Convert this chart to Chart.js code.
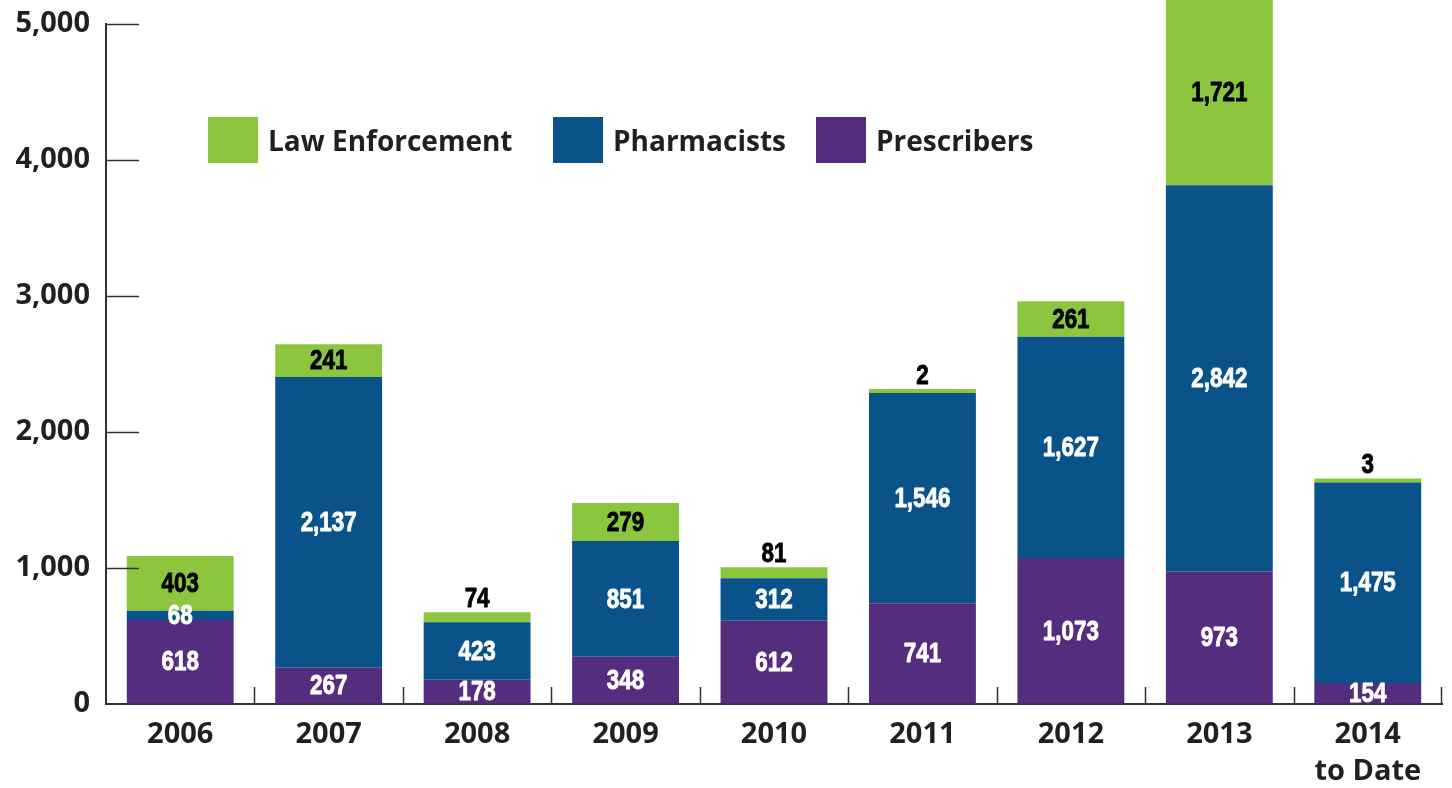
<!DOCTYPE html>
<html>
<head>
<meta charset="utf-8">
<script src="https://cdn.jsdelivr.net/npm/chart.js@4.4.1/dist/chart.umd.min.js"></script>
<style>
  html, body { margin: 0; padding: 0; background: #ffffff; }
  #wrap { position: relative; width: 1452px; height: 788px; overflow: hidden; }
  #chart { position: absolute; left: 0; top: 0; }
  .leg { position: absolute; top: 117px; height: 46px; display: flex; align-items: center;
         font-family: 'Open Sans', 'DejaVu Sans', sans-serif; font-weight: 700; font-size: 28px; color: #231f20; white-space: nowrap; }
  .leg .box { width: 50px; height: 46px; margin-right: 10px; }
</style>
</head>
<body>
<div id="wrap">
  <canvas id="chart" width="1452" height="788"></canvas>
</div>
<script>
// ---- data ----
const categories = ['2006', '2007', '2008', '2009', '2010', '2011', '2012', '2013', ['2014', 'to Date']];
const prescribers = [618, 267, 178, 348, 612, 741, 1073, 973, 154];
const pharmacists = [68, 2137, 423, 851, 312, 1546, 1627, 2842, 1475];
const lawEnforcement = [403, 241, 74, 279, 81, 2, 261, 1721, 3];
const yTicks = [0, 1000, 2000, 3000, 4000, 5000];

const seriesNames = ['Prescribers', 'Pharmacists', 'Law Enforcement'];
const seriesColors = ['#552d7e', '#0a538a', '#8cc63f'];
const labelColors = ['#ffffff', '#ffffff', '#000000'];
const legendOrder = [2, 1, 0];
const legendX = [208, 553, 816];

const LABEL_FONT = "bold 28px 'Liberation Sans', Arial, sans-serif";
const LABEL_SQUEEZE = 0.8;
const AXIS_COLOR = '#333333';

// tick marks inside the plot area
const tickMarks = {
  id: 'tickMarks',
  afterDatasetsDraw(chart) {
    const ctx = chart.ctx, area = chart.chartArea;
    const x = chart.scales.x, y = chart.scales.y;
    ctx.save();
    ctx.strokeStyle = AXIS_COLOR;
    ctx.lineWidth = 1.5;
    ctx.beginPath();
    y.ticks.forEach(t => {
      if (t.value === 0) return;
      const py = Math.round(y.getPixelForValue(t.value)) + 0.5;
      ctx.moveTo(area.left, py);
      ctx.lineTo(area.left + 33, py);
    });
    const n = categories.length;
    for (let i = 1; i <= n; i++) {
      let px = i < n ? (x.getPixelForTick(i - 1) + x.getPixelForTick(i)) / 2 : area.right - 1;
      px = Math.round(px) + 0.5;
      ctx.moveTo(px, area.bottom);
      ctx.lineTo(px, area.bottom - 17);
    }
    ctx.stroke();
    ctx.restore();
  }
};

// value labels on segments
const valueLabels = {
  id: 'valueLabels',
  afterDatasetsDraw(chart) {
    const ctx = chart.ctx;
    chart.data.datasets.forEach((ds, di) => {
      const meta = chart.getDatasetMeta(di);
      meta.data.forEach((bar, i) => {
        const v = ds.data[i];
        const top = Math.max(bar.y, 0);
        const h = bar.base - top;
        let cy = (top + bar.base) / 2;
        let color = labelColors[di];
        if (di === 2 && h < 20) {
          cy = bar.y - 14;
          color = '#000000';
        }
        const s = v.toLocaleString('en-US');
        ctx.save();
        ctx.font = LABEL_FONT;
        ctx.textAlign = 'center';
        ctx.textBaseline = 'middle';
        ctx.fillStyle = color;
        ctx.strokeStyle = color;
        ctx.lineWidth = 0.9;
        ctx.lineJoin = 'round';
        ctx.translate(bar.x, cy + 1);
        ctx.scale(LABEL_SQUEEZE, 1);
        ctx.fillText(s, 0, 0);
        ctx.strokeText(s, 0, 0);
        ctx.restore();
      });
    });
  }
};

const datasets = [prescribers, pharmacists, lawEnforcement].map((d, i) => ({
  label: seriesNames[i],
  data: d,
  backgroundColor: seriesColors[i],
  borderWidth: 0,
  categoryPercentage: 1.0,
  barPercentage: 0.72,
  minBarLength: i === 2 ? 4 : 0,
  clip: false
}));

const tickFont = { family: "'Open Sans', 'DejaVu Sans', sans-serif", weight: 'bold', size: 29, lineHeight: 1.27 };

new Chart(document.getElementById('chart'), {
  type: 'bar',
  data: { labels: categories, datasets },
  options: {
    responsive: false,
    animation: false,
    layout: { padding: { top: 24, right: 10, left: 0, bottom: 0 } },
    plugins: { legend: { display: false }, tooltip: { enabled: false } },
    scales: {
      x: {
        stacked: true,
        grid: { display: true, drawOnChartArea: false, drawTicks: false },
        border: { display: true, color: AXIS_COLOR, width: 2 },
        ticks: { font: tickFont, color: '#231f20', padding: 12, maxRotation: 0, autoSkip: false },
        afterFit(s) { s.height = 84; s.paddingLeft = 0; s.paddingRight = 0; }
      },
      y: {
        stacked: true,
        min: 0,
        max: 5000,
        grid: { display: true, drawOnChartArea: false, drawTicks: false },
        border: { display: true, color: AXIS_COLOR, width: 2 },
        afterBuildTicks(s) { s.ticks = yTicks.map(v => ({ value: v })); },
        ticks: {
          font: tickFont, color: '#231f20', padding: 16,
          callback: v => Number(v).toLocaleString('en-US')
        },
        afterFit(s) { s.width = 106; s.paddingTop = 0; s.paddingBottom = 0; }
      }
    }
  },
  plugins: [tickMarks, valueLabels]
});

// legend (HTML)
const wrap = document.getElementById('wrap');
legendOrder.forEach((si, k) => {
  const item = document.createElement('div');
  item.className = 'leg';
  item.style.left = legendX[k] + 'px';
  const box = document.createElement('div');
  box.className = 'box';
  box.style.background = seriesColors[si];
  const txt = document.createElement('span');
  txt.textContent = seriesNames[si];
  item.appendChild(box);
  item.appendChild(txt);
  wrap.appendChild(item);
});
</script>
</body>
</html>
